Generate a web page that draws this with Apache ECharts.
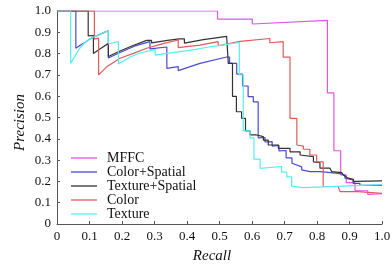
<!DOCTYPE html>
<html>
<head>
<meta charset="utf-8">
<script src="https://cdn.jsdelivr.net/npm/echarts@6/dist/echarts.min.js"></script>
<style>
  html, body { margin: 0; padding: 0; background: #fff; }
  #chart { width: 392px; height: 264px; }
</style>
</head>
<body>
<div id="chart"></div>
<script>
// series names (legend order)
var names = ["MFFC", "Color+Spatial", "Texture+Spatial", "Color", "Texture"];
var colors = ["#e055e0", "#4a4ad0", "#333333", "#e05a5a", "#55eeee"];

// [recall, precision] points
var mffc = [
  [0, 1], [0.494, 1], [0.494, 0.962], [0.601, 0.962], [0.601, 0.939],
  [0.832, 0.956], [0.832, 0.616], [0.852, 0.616], [0.852, 0.344],
  [0.873, 0.344], [0.873, 0.23], [0.89, 0.23], [0.89, 0.194],
  [0.917, 0.194], [0.917, 0.156], [0.956, 0.156], [0.956, 0.139], [1.0, 0.142]
];
var colorSpatial = [
  [0, 1], [0.058, 1], [0.058, 0.825], [0.07, 0.838], [0.086, 0.852],
  [0.10, 0.868], [0.117, 0.880], [0.14, 0.896], [0.158, 0.907], [0.158, 0.779],
  [0.194, 0.805], [0.24, 0.836], [0.286, 0.856], [0.286, 0.822], [0.338, 0.831],
  [0.338, 0.731], [0.373, 0.739], [0.373, 0.72], [0.44, 0.754], [0.522, 0.784],
  [0.531, 0.784], [0.531, 0.754], [0.553, 0.754], [0.553, 0.704], [0.571, 0.704],
  [0.571, 0.648], [0.588, 0.648], [0.588, 0.598], [0.604, 0.598], [0.604, 0.573],
  [0.619, 0.573], [0.619, 0.404], [0.64, 0.406], [0.64, 0.385], [0.662, 0.387],
  [0.662, 0.366], [0.683, 0.369], [0.683, 0.343], [0.705, 0.345], [0.705, 0.31],
  [0.723, 0.31], [0.723, 0.285], [0.753, 0.268], [0.753, 0.254], [0.778, 0.246],
  [0.809, 0.246], [0.809, 0.238], [0.866, 0.238], [0.871, 0.23], [0.886, 0.23],
  [0.886, 0.215], [0.911, 0.207], [0.911, 0.191], [0.932, 0.191], [0.932, 0.181],
  [1.0, 0.181]
];
var textureSpatial = [
  [0, 1], [0.096, 1], [0.096, 0.883], [0.112, 0.885], [0.112, 0.801],
  [0.132, 0.822], [0.158, 0.848], [0.158, 0.786], [0.194, 0.812], [0.234, 0.838],
  [0.276, 0.862], [0.291, 0.862], [0.291, 0.85], [0.34, 0.862], [0.376, 0.869],
  [0.392, 0.869], [0.392, 0.849], [0.45, 0.866], [0.522, 0.881], [0.527, 0.881],
  [0.527, 0.754], [0.54, 0.754], [0.54, 0.599], [0.552, 0.599], [0.552, 0.527],
  [0.568, 0.527], [0.568, 0.496], [0.58, 0.496], [0.58, 0.437], [0.594, 0.437],
  [0.594, 0.418], [0.614, 0.418], [0.635, 0.41], [0.635, 0.394], [0.65, 0.394],
  [0.65, 0.371], [0.681, 0.371], [0.681, 0.355], [0.717, 0.355], [0.717, 0.339],
  [0.748, 0.339], [0.748, 0.324], [0.789, 0.316], [0.789, 0.292], [0.809, 0.288],
  [0.809, 0.262], [0.84, 0.262], [0.845, 0.246], [0.876, 0.241], [0.881, 0.23],
  [0.896, 0.215], [0.912, 0.21], [0.912, 0.2], [1.0, 0.202]
];
var colorOnly = [
  [0, 1], [0.115, 1], [0.115, 0.868], [0.128, 0.873], [0.128, 0.7],
  [0.153, 0.738], [0.194, 0.778], [0.235, 0.801], [0.276, 0.825], [0.326, 0.847],
  [0.373, 0.864], [0.373, 0.828], [0.44, 0.84], [0.496, 0.856], [0.496, 0.837],
  [0.563, 0.857], [0.655, 0.871], [0.655, 0.851], [0.696, 0.856], [0.696, 0.783],
  [0.717, 0.783], [0.717, 0.496], [0.738, 0.496], [0.738, 0.371], [0.758, 0.366],
  [0.758, 0.351], [0.778, 0.351], [0.778, 0.324], [0.799, 0.324], [0.799, 0.292],
  [0.819, 0.292], [0.819, 0.176], [0.865, 0.176], [0.871, 0.152], [0.926, 0.152],
  [0.932, 0.144], [1.0, 0.144]
];
var texture = [
  [0, 1], [0.042, 1], [0.042, 0.754], [0.05, 0.775], [0.058, 0.795],
  [0.07, 0.825], [0.086, 0.852], [0.10, 0.868], [0.117, 0.880], [0.14, 0.896],
  [0.158, 0.907], [0.158, 0.845], [0.189, 0.857], [0.189, 0.751], [0.225, 0.784],
  [0.255, 0.803], [0.302, 0.819], [0.302, 0.793], [0.348, 0.803], [0.409, 0.815],
  [0.471, 0.832], [0.561, 0.852], [0.561, 0.7], [0.573, 0.7], [0.573, 0.437],
  [0.594, 0.437], [0.594, 0.404], [0.606, 0.404], [0.606, 0.305], [0.625, 0.305],
  [0.625, 0.261], [0.691, 0.27], [0.691, 0.244], [0.707, 0.244], [0.707, 0.221],
  [0.722, 0.221], [0.722, 0.178], [0.757, 0.171], [1.0, 0.185]
];
var allData = [mffc, colorSpatial, textureSpatial, colorOnly, texture];

var serif = "'Liberation Serif', 'DejaVu Serif', serif";

function tickLabel(v) {
  return v === 0 ? "0" : v.toFixed(1);
}

var myChart = echarts.init(document.getElementById("chart"));

var series = [];
for (var i = 0; i < names.length; i++) {
  series.push({
    name: names[i],
    type: "line",
    data: allData[i],
    symbol: "none",
    animation: false,
    lineStyle: { color: colors[i], width: 1.2 },
    itemStyle: { color: colors[i] }
  });
}

myChart.setOption({
  backgroundColor: "#fff",
  grid: { left: 57, right: 10, top: 11, bottom: 40, outerBoundsMode: "none" },
  legend: {
    orient: "vertical",
    left: 66,
    top: 146,
    icon: "rect",
    itemWidth: 26,
    itemHeight: 1.3,
    itemGap: 0,
    textStyle: { fontFamily: serif, fontSize: 14, lineHeight: 13.4, color: "#111", padding: [0, 0, 0, 5] },
    data: names
  },
  xAxis: {
    type: "value",
    min: 0,
    max: 1,
    interval: 0.1,
    name: "Recall",
    nameLocation: "middle",
    nameGap: 25,
    nameMoveOverlap: false,
    nameTextStyle: { fontFamily: serif, fontStyle: "italic", fontSize: 15, color: "#111", padding: [0, 15, 0, 0] },
    axisLine: { lineStyle: { color: "#555", width: 1 } },
    axisTick: { inside: true, length: 3, lineStyle: { color: "#555" } },
    splitLine: { show: false },
    axisLabel: { fontFamily: serif, fontSize: 13, color: "#111", margin: 6, formatter: tickLabel }
  },
  yAxis: {
    type: "value",
    min: 0,
    max: 1,
    interval: 0.1,
    name: "Precision",
    nameLocation: "middle",
    nameGap: 29,
    nameMoveOverlap: false,
    nameTextStyle: { fontFamily: serif, fontStyle: "italic", fontSize: 15, color: "#111", padding: [0, 10, 0, 0] },
    axisLine: { show: true, lineStyle: { color: "#555", width: 1 } },
    axisTick: { show: true, inside: true, length: 3, lineStyle: { color: "#555" } },
    splitLine: { show: false },
    axisLabel: { fontFamily: serif, fontSize: 13, color: "#111", margin: 6, formatter: tickLabel }
  },
  series: series
});
</script>
</body>
</html>
